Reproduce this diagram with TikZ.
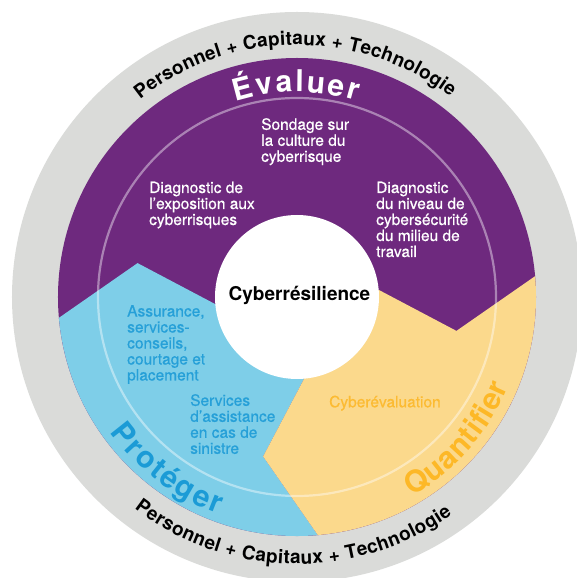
\documentclass[tikz,border=0pt]{standalone}
\usepackage{fontspec}
\setmainfont{TeX Gyre Heros}
\newfontfamily\itemfont{TeX Gyre Heros}[FakeBold=0.6]
\usetikzlibrary{decorations.text}

\definecolor{evalpurple}{RGB}{110,41,126}
\definecolor{protblue}{RGB}{126,206,232}
\definecolor{quantyellow}{RGB}{251,217,140}
\definecolor{ringgray}{RGB}{218,219,217}
\definecolor{protlabel}{RGB}{27,155,214}
\definecolor{protitem}{RGB}{38,160,216}
\definecolor{quantlabel}{RGB}{253,184,39}
\definecolor{quantitem}{RGB}{252,187,50}

\tikzset{
  item/.style={anchor=north west, align=left, inner sep=0pt, font=\itemfont\fontsize{15.5}{16}\selectfont},
  ringtext/.style={decorate, decoration={text along path, text align={fit to path},
      text={|\bfseries\fontsize{19}{22}\selectfont|#1}}},
  titletext/.style 2 args={decorate, decoration={text along path, text align={fit to path},
      text color=#1, text={|\bfseries\fontsize{30}{34}\selectfont|#2}}},
}

\begin{document}
\begin{tikzpicture}[x=1pt, y=1pt]
  \useasboundingbox (-297,-281) rectangle (280,297);

  % Define the points
  \coordinate (O) at (0,0);
  \coordinate (PBin) at (185:82pt);
  \coordinate (PBtip) at (168:163pt);
  \coordinate (PBout) at (185:239pt);
  \coordinate (BYin) at (275:82pt);
  \coordinate (BYtip) at (258:163pt);
  \coordinate (BYout) at (275:239pt);
  \coordinate (YPin) at (5:82pt);
  \coordinate (YPtip) at (348:163pt);
  \coordinate (YPout) at (5:239pt);

  % Outer ring and the three sectors
  \fill[ringgray] (O) circle (285pt);
  \fill[evalpurple] (O) circle (239pt);
  \fill[protblue] (PBin) -- (PBtip) -- (PBout) arc[start angle=185, end angle=275, radius=239pt]
    -- (BYtip) -- (BYin) -- (O) -- cycle;
  \fill[quantyellow] (BYin) -- (BYtip) -- (BYout) arc[start angle=275, end angle=365, radius=239pt]
    -- (YPtip) -- (YPin) -- (O) -- cycle;

  \draw[white, opacity=0.42, line width=2.2pt] (O) circle (199pt);
  \fill[white] (O) circle (82pt);

  % Curved labels
  \path[ringtext={Personnel + Capitaux + Technologie}] (128.5:252pt) arc[start angle=128.5, end angle=52.5, radius=252pt];
  \path[ringtext={Personnel + Capitaux + Technologie}] (232.5:267pt) arc[start angle=232.5, end angle=305.5, radius=267pt];
  \path[titletext={white}{Évaluer}] (107.5:205pt) arc[start angle=107.5, end angle=73, radius=205pt];
  \path[titletext={protlabel}{Protéger}] (216:231pt) arc[start angle=216, end angle=250, radius=231pt];
  \path[titletext={quantlabel}{Quantifier}] (300:230pt) arc[start angle=300, end angle=337, radius=230pt];

  % Items
  \node[item, white] (sondage) at (-36,179) {Sondage sur\\la culture du\\cyberrisque};
  \node[item, white] (expo) at (-148,115.5) {Diagnostic de\\l’exposition aux\\cyberrisques};
  \node[item, white] (niveau) at (79,115.5) {Diagnostic\\du niveau de\\cybersécurité\\du milieu de\\travail};
  \node[font=\bfseries\fontsize{19}{22}\selectfont, anchor=base, inner sep=0pt] (cyber) at (2.5,-4) {Cyberrésilience};
  \node[item, protitem] (assur) at (-170,-8) {Assurance,\\services-\\conseils,\\courtage et\\placement};
  \node[item, protitem] (assist) at (-107,-97) {Services\\d’assistance\\en cas de\\sinistre};
  \node[item, quantitem] (eval) at (32,-98.5) {Cyberévaluation};

\end{tikzpicture}
\end{document}
